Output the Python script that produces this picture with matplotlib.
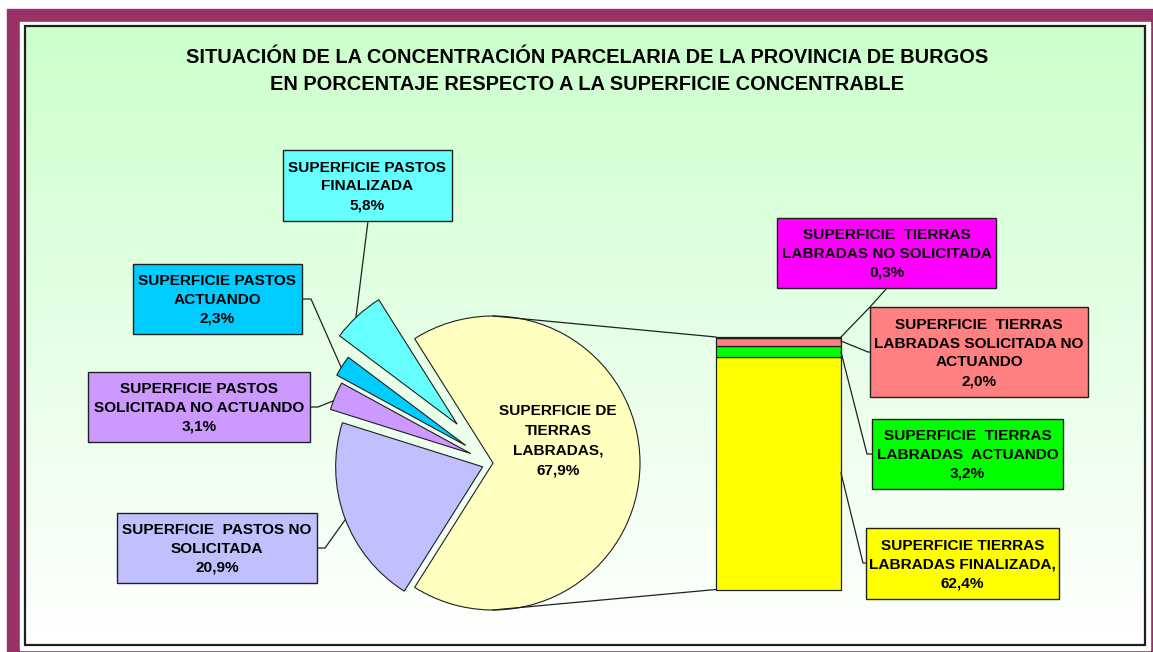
import matplotlib
matplotlib.use('Agg')
import matplotlib.pyplot as plt
from matplotlib.patches import Rectangle
import numpy as np

# ------------------------------- Datos -------------------------------- #

titulo = ('SITUACIÓN DE LA CONCENTRACIÓN PARCELARIA DE LA PROVINCIA DE BURGOS\n'
          'EN PORCENTAJE RESPECTO A LA SUPERFICIE CONCENTRABLE')

pie_labels = ['SUPERFICIE DE\nTIERRAS\nLABRADAS,',
              'SUPERFICIE PASTOS\nFINALIZADA',
              'SUPERFICIE PASTOS\nACTUANDO',
              'SUPERFICIE PASTOS\nSOLICITADA NO ACTUANDO',
              'SUPERFICIE  PASTOS NO\nSOLICITADA']
pie_values = [67.9, 5.8, 2.3, 3.1, 20.9]

bar_labels = ['SUPERFICIE TIERRAS\nLABRADAS FINALIZADA,',
              'SUPERFICIE  TIERRAS\nLABRADAS  ACTUANDO',
              'SUPERFICIE  TIERRAS\nLABRADAS SOLICITADA NO\nACTUANDO',
              'SUPERFICIE  TIERRAS\nLABRADAS NO SOLICITADA']
bar_values = [62.4, 3.2, 2.0, 0.3]

# ------------------------------ Estilos ------------------------------- #

pie_colors = ['#FFFFC0', '#66FFFF', '#00CCFF', '#CC99FF', '#C0C0FF']
pie_explode = [0, 0.36, 0.22, 0.165, 0.075]
bar_colors = ['#FFFF00', '#00FF00', '#FF8080', '#FF00FF']

W, H = 1153, 652
FONT = 'Liberation Sans'
FS = 11.1
LS = 1.44

# pixel layout
PIE_C, PIE_R, PIE_S = (493, 463), 147, 210
BAR_BOX = (716, 337, 841, 589.5)

# label boxes (x0, y0, x1, y1) and leader lines, in pixels
pie_boxes = [None,
             (283, 150, 452, 221),
             (133, 264, 302, 334),
             (88, 372, 310, 442),
             (117, 513, 317, 583)]
pie_leaders = [None,
               [(368, 221), (356, 317)],
               [(302, 299), (311, 299), (341, 367)],
               [(310, 407), (318, 407), (333, 401)],
               [(317, 548), (325, 548), (345, 520)]]
bar_boxes = [(866, 528, 1059, 599),
             (872, 419, 1063, 489),
             (870, 307, 1088, 397),
             (777, 218, 996, 288)]
bar_leaders = [[(841, 473), (863, 563), (866, 563)],
               [(841, 352), (867, 454), (872, 454)],
               [(841, 341), (868, 352), (870, 352)],
               [(841, 337), (870, 307), (887, 288)]]


def fmt(v):
    return '{:.1f}%'.format(v).replace('.', ',')


def px_rect(x0, y0, x1, y1):
    return [x0 / W, 1 - y1 / H, (x1 - x0) / W, (y1 - y0) / H]


fig = plt.figure(figsize=(W / 100, H / 100), dpi=100)

# fondo y marcos
bg = fig.add_axes([0, 0, 1, 1])
bg.set_xlim(0, W)
bg.set_ylim(H, 0)
bg.axis('off')
bg.add_patch(Rectangle((0, 0), W, H, color='white'))
bg.add_patch(Rectangle((7, 9), W, H, color='#993366'))
bg.add_patch(Rectangle((20, 22), 1130, 628, color='white'))
t = np.linspace(0, 1, 256)[:, None]
top = np.array([204, 255, 204]) / 255
grad = (1 - t)[..., None] * top + t[..., None] * np.ones(3)
grad = np.repeat(grad, 2, axis=1)
bg.imshow(grad, extent=(25, 1145, 645, 26), aspect='auto', zorder=1)
bg.add_patch(Rectangle((25, 26), 1120, 619, fill=False, edgecolor='#202020',
                       lw=1.6, zorder=2))

# tarta
axp = fig.add_axes(px_rect(PIE_C[0] - PIE_S, PIE_C[1] - PIE_S,
                           PIE_C[0] + PIE_S, PIE_C[1] + PIE_S))
start = -0.5 * pie_values[0] / sum(pie_values) * 360
axp.pie(pie_values, colors=pie_colors, explode=pie_explode, startangle=start,
        counterclock=True, wedgeprops=dict(edgecolor='#202020', linewidth=0.8))
lim = PIE_S / PIE_R
axp.set_xlim(-lim, lim)
axp.set_ylim(-lim, lim)
axp.axis('off')
axp.patch.set_visible(False)

# barra
axb = fig.add_axes(px_rect(*BAR_BOX))
bottom = 0
for v, c in zip(bar_values, bar_colors):
    axb.bar(0, v, width=1, bottom=bottom, color=c, edgecolor='#202020',
            linewidth=0.9, clip_on=False)
    bottom += v
axb.set_xlim(-0.5, 0.5)
axb.set_ylim(0, sum(bar_values))
axb.axis('off')
axb.patch.set_visible(False)

# textos, cajas y lineas
ov = fig.add_axes([0, 0, 1, 1])
ov.set_xlim(0, W)
ov.set_ylim(H, 0)
ov.axis('off')
ov.patch.set_visible(False)

ov.text(587, 71, titulo, ha='center', va='center', fontsize=14.4,
        fontweight='bold', family=FONT, linespacing=1.5)

# lineas de union tarta - barra
ov.plot([PIE_C[0], BAR_BOX[0]], [PIE_C[1] - PIE_R, BAR_BOX[1]],
        color='#202020', lw=0.9)
ov.plot([PIE_C[0], BAR_BOX[0]], [PIE_C[1] + PIE_R, BAR_BOX[3]],
        color='#202020', lw=0.9)

ov.text(558, 441, pie_labels[0] + '\n' + fmt(pie_values[0]), ha='center',
        va='center', fontsize=FS, fontweight='bold', family=FONT,
        linespacing=1.52)


def caja(box, leader, color, texto):
    x0, y0, x1, y1 = box
    ov.add_patch(Rectangle((x0, y0), x1 - x0, y1 - y0, facecolor=color,
                           edgecolor='#202020', lw=1.0, zorder=3))
    xs, ys = zip(*leader)
    ov.plot(xs, ys, color='#202020', lw=0.9, zorder=2)
    ov.text((x0 + x1) / 2, (y0 + y1) / 2 + 1, texto, ha='center', va='center',
            fontsize=FS, fontweight='bold', family=FONT, linespacing=LS,
            zorder=4)


for i in range(1, len(pie_values)):
    caja(pie_boxes[i], pie_leaders[i], pie_colors[i],
         pie_labels[i] + '\n' + fmt(pie_values[i]))

for i in range(len(bar_values)):
    caja(bar_boxes[i], bar_leaders[i], bar_colors[i],
         bar_labels[i] + '\n' + fmt(bar_values[i]))

fig.savefig('out.png', dpi=100)
